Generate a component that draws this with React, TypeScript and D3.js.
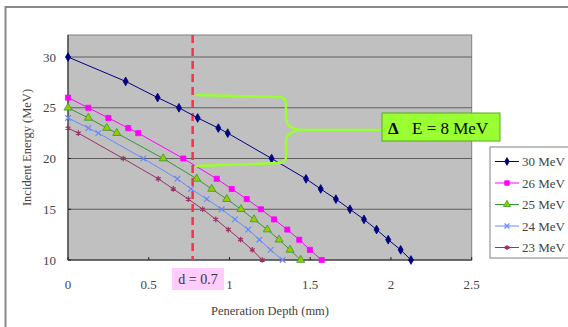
import React, { useEffect, useRef } from 'react';
import * as d3 from 'd3';

// Penetration depth (mm) and incident energy (MeV) for each beam
const depth30 = [0, 0.357, 0.555, 0.687, 0.803, 0.931, 0.989, 1.261, 1.474, 1.565, 1.659, 1.746, 1.833, 1.911, 1.983, 2.06, 2.124];
const energy30 = [30, 27.6, 26, 25, 24, 23, 22.5, 20, 18, 17, 16, 15, 14, 13, 12, 11, 10];
const depth26 = [0, 0.126, 0.25, 0.373, 0.435, 0.714, 0.921, 1.014, 1.107, 1.195, 1.276, 1.358, 1.432, 1.498, 1.571];
const energy26 = [26, 25, 24, 23, 22.5, 20, 18, 17, 16, 15, 14, 13, 12, 11, 10];
const depth25 = [0, 0.126, 0.24, 0.302, 0.59, 0.797, 0.89, 0.983, 1.071, 1.152, 1.234, 1.307, 1.375, 1.441];
const energy25 = [25, 24, 23, 22.5, 20, 18, 17, 16, 15, 14, 13, 12, 11, 10];
const depth24 = [0, 0.126, 0.188, 0.466, 0.677, 0.762, 0.859, 0.952, 1.034, 1.116, 1.185, 1.255, 1.329];
const energy24 = [24, 23, 22.5, 20, 18, 17, 16, 15, 14, 13, 12, 11, 10];
const depth23 = [0, 0.064, 0.342, 0.559, 0.652, 0.745, 0.834, 0.915, 0.993, 1.069, 1.141, 1.203];
const energy23 = [23, 22.5, 20, 18, 17, 16, 15, 14, 13, 12, 11, 10];

const seriesNames = ['30 MeV', '26 MeV', '25 MeV', '24 MeV', '23 MeV'];
const xTicks = [0, 0.5, 1, 1.5, 2, 2.5];
const yTicks = [10, 15, 20, 25, 30];

// annotation values
const markDepth = 0.772; // where the dashed line sits
const markLabel = 'd = 0.7';
const braceTop = 26.25;
const braceMid = 22.8;
const braceBottom = 19.25;
const braceLeft = 0.786;
const braceSpine = 1.35;
const braceTip = 1.94;

type Series = { name: string; xs: number[]; ys: number[]; color: string; symbol: d3.SymbolType; fill: string; stroke: string; size: number };

const App = () => {
    const svgRef = useRef<SVGSVGElement>(null);

    useEffect(() => {
        const svg = d3.select(svgRef.current);
        svg.selectAll('*').remove();

        const W = 568, H = 327;
        const left = 68, right = 471.7, top = 35, bottom = 260;
        const font = '"Liberation Serif", "Times New Roman", serif';

        const x = d3.scaleLinear().domain([0, 2.5]).range([left, right]);
        const y = d3.scaleLinear().domain([10, 32.17]).range([bottom, top]);

        const series: Series[] = [
            { name: seriesNames[0], xs: depth30, ys: energy30, color: '#000080', symbol: d3.symbolDiamond, fill: '#000080', stroke: '#000080', size: 22 },
            { name: seriesNames[1], xs: depth26, ys: energy26, color: '#ff00ff', symbol: d3.symbolSquare, fill: '#ff00ff', stroke: '#ff00ff', size: 26 },
            { name: seriesNames[2], xs: depth25, ys: energy25, color: '#339933', symbol: d3.symbolTriangle, fill: '#99cc00', stroke: '#339933', size: 28 },
            { name: seriesNames[3], xs: depth24, ys: energy24, color: '#6688ff', symbol: d3.symbolTimes, fill: 'none', stroke: '#6688ff', size: 22 },
            { name: seriesNames[4], xs: depth23, ys: energy23, color: '#993366', symbol: d3.symbolAsterisk, fill: 'none', stroke: '#993366', size: 22 },
        ];

        svg.attr('width', W).attr('height', H);

        // chart area
        svg.append('rect')
            .attr('x', 5.5).attr('y', 7).attr('width', 620).attr('height', 340)
            .attr('fill', '#ffffff').attr('stroke', '#8a8a8a').attr('stroke-width', 2);

        // plot area
        svg.append('rect')
            .attr('x', left).attr('y', top).attr('width', right - left).attr('height', bottom - top)
            .attr('fill', '#c0c0c0').attr('stroke', '#808080').attr('stroke-width', 1);

        // grid
        svg.selectAll('.grid')
            .data(yTicks.slice(1))
            .enter().append('line')
            .attr('x1', left).attr('x2', right)
            .attr('y1', d => y(d)).attr('y2', d => y(d))
            .attr('stroke', '#5e5e5e').attr('stroke-width', 1.2);

        // axes lines
        svg.append('line').attr('x1', left).attr('x2', left).attr('y1', top).attr('y2', bottom)
            .attr('stroke', '#222').attr('stroke-width', 1);
        svg.append('line').attr('x1', left).attr('x2', right).attr('y1', bottom).attr('y2', bottom)
            .attr('stroke', '#222').attr('stroke-width', 1);

        // ticks
        svg.selectAll('.xtick')
            .data(xTicks)
            .enter().append('line')
            .attr('x1', d => x(d)).attr('x2', d => x(d))
            .attr('y1', bottom - 3).attr('y2', bottom)
            .attr('stroke', '#222');
        svg.selectAll('.ytick')
            .data(yTicks)
            .enter().append('line')
            .attr('x1', left).attr('x2', left + 3)
            .attr('y1', d => y(d)).attr('y2', d => y(d))
            .attr('stroke', '#222');

        svg.selectAll('.xlabel')
            .data(xTicks)
            .enter().append('text')
            .attr('x', d => x(d)).attr('y', 289)
            .attr('text-anchor', 'middle')
            .attr('font-family', font).attr('font-size', 13).attr('fill', '#444')
            .text(d => String(d));

        svg.selectAll('.ylabel')
            .data(yTicks)
            .enter().append('text')
            .attr('x', 56).attr('y', d => y(d) + 4.5)
            .attr('text-anchor', 'end')
            .attr('font-family', font).attr('font-size', 13).attr('fill', '#444')
            .text(d => String(d));

        // axis titles
        svg.append('text')
            .attr('x', 270).attr('y', 315)
            .attr('text-anchor', 'middle')
            .attr('font-family', font).attr('font-size', 12.5).attr('fill', '#444')
            .text('Peneration Depth (mm)');
        svg.append('text')
            .attr('transform', `translate(31,${(top + bottom) / 2}) rotate(-90)`)
            .attr('text-anchor', 'middle')
            .attr('font-family', font).attr('font-size', 12.5).attr('fill', '#444')
            .text('Incident Energy (MeV)');

        // dashed red marker line
        svg.append('line')
            .attr('x1', x(markDepth)).attr('x2', x(markDepth))
            .attr('y1', top).attr('y2', bottom)
            .attr('stroke', '#f2354f').attr('stroke-width', 2.5)
            .attr('stroke-dasharray', '8,5');

        // series
        const line = d3.line<[number, number]>().x(d => x(d[0])).y(d => y(d[1]));
        series.forEach(s => {
            const pts = s.xs.map((v, i) => [v, s.ys[i]] as [number, number]);
            svg.append('path')
                .attr('d', line(pts))
                .attr('fill', 'none').attr('stroke', s.color).attr('stroke-width', 1);
            svg.selectAll(null)
                .data(pts)
                .enter().append('path')
                .attr('transform', d => `translate(${x(d[0])},${y(d[1])})`)
                .attr('d', d3.symbol().type(s.symbol).size(s.size)())
                .attr('fill', s.fill).attr('stroke', s.stroke)
                .attr('stroke-width', s.fill === 'none' ? 1.2 : 0.8);
        });

        // brace
        const bx = (v: number) => x(v), by = (v: number) => y(v);
        const brace = d3.path();
        brace.moveTo(bx(braceLeft), by(braceTop));
        brace.lineTo(bx(braceSpine) - 8, by(braceTop) + 2);
        brace.quadraticCurveTo(bx(braceSpine), by(braceTop) + 2, bx(braceSpine), by(braceTop) + 9);
        brace.lineTo(bx(braceSpine), by(braceMid) - 12);
        brace.quadraticCurveTo(bx(braceSpine), by(braceMid) - 2, bx(braceSpine) + 14, by(braceMid));
        brace.lineTo(bx(braceTip), by(braceMid));
        brace.moveTo(bx(braceSpine) + 14, by(braceMid));
        brace.quadraticCurveTo(bx(braceSpine), by(braceMid) + 2, bx(braceSpine), by(braceMid) + 12);
        brace.lineTo(bx(braceSpine), by(braceBottom) - 9);
        brace.quadraticCurveTo(bx(braceSpine), by(braceBottom) - 3, bx(braceSpine) - 8, by(braceBottom) - 3);
        brace.lineTo(bx(braceLeft), by(braceBottom));
        svg.append('path')
            .attr('d', brace.toString())
            .attr('fill', 'none').attr('stroke', '#99ff33').attr('stroke-width', 2.5);

        // delta E label
        svg.append('rect')
            .attr('x', 382).attr('y', 113).attr('width', 118).attr('height', 28)
            .attr('fill', '#99ff33').attr('stroke', '#5aa81e').attr('stroke-width', 1);
        svg.append('text')
            .attr('x', 388).attr('y', 134)
            .attr('font-family', font).attr('font-size', 17).attr('font-weight', 'bold')
            .text('Δ');
        svg.append('text')
            .attr('x', 412).attr('y', 134)
            .attr('font-family', font).attr('font-size', 17)
            .text('E = 8 MeV');

        // d label
        svg.append('rect')
            .attr('x', 172).attr('y', 268).attr('width', 52).attr('height', 22)
            .attr('fill', '#ffccff');
        svg.append('text')
            .attr('x', 198).attr('y', 284)
            .attr('text-anchor', 'middle')
            .attr('font-family', font).attr('font-size', 14).attr('fill', '#333')
            .text(markLabel);

        // legend
        const lg = svg.append('g').attr('transform', 'translate(490,147)');
        lg.append('rect')
            .attr('width', 100).attr('height', 111)
            .attr('fill', '#fff').attr('stroke', '#808080').attr('stroke-width', 1);
        series.forEach((s, i) => {
            const cy = 14.5 + i * 21.5;
            lg.append('line')
                .attr('x1', 5).attr('x2', 29).attr('y1', cy).attr('y2', cy)
                .attr('stroke', s.color).attr('stroke-width', 1);
            lg.append('path')
                .attr('transform', `translate(17,${cy})`)
                .attr('d', d3.symbol().type(s.symbol).size(s.size * 0.8)())
                .attr('fill', s.fill).attr('stroke', s.stroke)
                .attr('stroke-width', s.fill === 'none' ? 1.2 : 0.8);
            lg.append('text')
                .attr('x', 32).attr('y', cy + 4.5)
                .attr('font-family', font).attr('font-size', 13).attr('fill', '#444')
                .text(s.name);
        });
    }, []);

    return (
        <svg ref={svgRef} style={{ position: 'absolute', left: 0, top: 0 }}></svg>
    );
};

export default App;
